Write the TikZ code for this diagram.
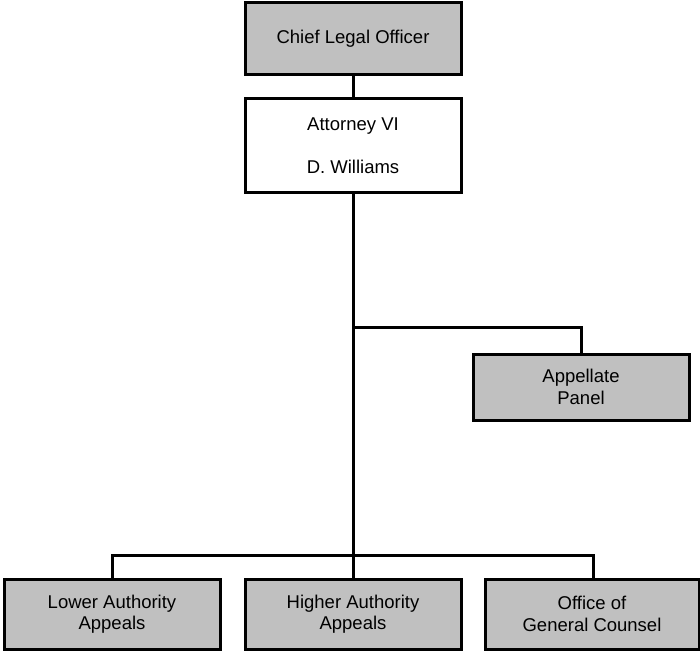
\documentclass[tikz,border=0pt]{standalone}
\usepackage{fontspec}
\setmainfont{Liberation Sans}
\definecolor{boxgray}{HTML}{C0C0C0}
\begin{document}
\begin{tikzpicture}[x=1pt,y=-1pt,
  every node/.style={font=\fontsize{18.5}{21.5}\selectfont},
  unit/.style={draw=black, line width=3pt, rectangle, align=center,
    minimum width=216pt, inner sep=0pt},
  grayunit/.style={unit, fill=boxgray},
  link/.style={draw=black, line width=3pt}]
  \useasboundingbox (0,0) rectangle (700,652);

  % Boxes
  \node[grayunit, minimum height=72pt] (chief) at (353,39) {Chief Legal Officer};
  \node[unit, fill=white, minimum height=94pt] (atty) at (353,146) {Attorney VI\\[21.5pt]D. Williams};
  \node[grayunit, minimum height=66pt] (appellate) at (581,387) {Appellate\\Panel};
  \node[grayunit, minimum height=70pt] (lower) at (112,614) {Lower Authority\\Appeals};
  \node[grayunit, minimum height=70pt] (higher) at (353,614) {Higher Authority\\Appeals};
  \node[grayunit, minimum height=70pt, minimum width=214pt] (office) at (592,614) {Office of\\General Counsel};

  % Junction points
  \coordinate (branch) at (353,327);
  \coordinate (bus) at (353,555);

  % Connectors
  \draw[link] (chief.south) -- (atty.north);
  \draw[link] (atty.south) -- (higher.north);
  \draw[link] (branch) -| (appellate.north);
  \draw[link] (lower.north) |- (bus) -| ([xshift=1pt]office.north);
\end{tikzpicture}
\end{document}
